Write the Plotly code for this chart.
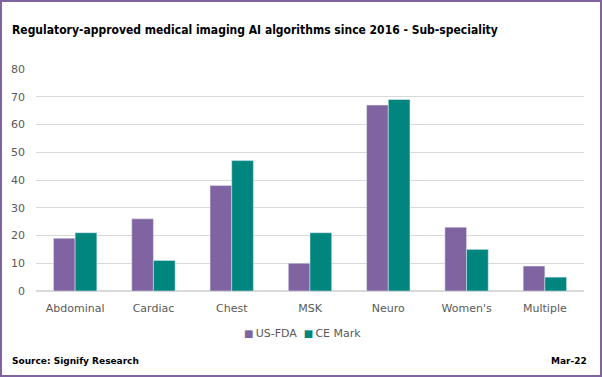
import plotly.graph_objects as go

categories = ["Abdominal", "Cardiac", "Chest", "MSK", "Neuro", "Women's", "Multiple"]
us_fda = [19, 26, 38, 10, 67, 23, 9]
ce_mark = [21, 11, 47, 21, 69, 15, 5]
y_ticks = [0, 10, 20, 30, 40, 50, 60, 70, 80]
series_names = ["US-FDA", "CE Mark"]
series_colors = ["#8064A2", "#00857F"]

W, H = 602, 377
L, R, T, B = 36, 18, 69, 86
pw, ph = W - L - R, H - T - B

def px(x):
    return (x - L) / pw

def py(y):
    return (H - B - y) / ph

fig = go.Figure()
fig.add_trace(go.Bar(x=categories, y=us_fda, name=series_names[0], marker_color=series_colors[0]))
fig.add_trace(go.Bar(x=categories, y=ce_mark, name=series_names[1], marker_color=series_colors[1]))

legend_text = (f"<span style='color:{series_colors[0]};font-size:10px'>■</span>\u2009{series_names[0]}"
               f"  <span style='color:{series_colors[1]};font-size:10px'>■</span>\u2009{series_names[1]}")

fig.update_layout(
    width=W, height=H,
    margin=dict(l=L, r=R, t=T, b=B, autoexpand=False),
    paper_bgcolor="white", plot_bgcolor="white",
    barmode="group", bargap=0.446, bargroupgap=0,
    font=dict(family="DejaVu Sans", size=11, color="#595959"),
    showlegend=False,
    xaxis=dict(showgrid=False, showline=True, linecolor="#D9D9D9", ticks="",
               ticklabelstandoff=7,
               automargin=False, tickfont=dict(size=11, color="#595959")),
    yaxis=dict(range=[0, 80], tickvals=y_ticks, showgrid=True, gridcolor="#D9D9D9",
               zeroline=True, zerolinecolor="#D9D9D9", ticks="", ticklen=0,
               ticklabelstandoff=10,
               automargin=False, tickfont=dict(size=11, color="#595959")),
    shapes=[dict(type="rect", xref="paper", yref="paper",
                 x0=px(1), x1=px(601), y0=py(376), y1=py(1),
                 line=dict(color="#8064A2", width=2), fillcolor="rgba(0,0,0,0)", layer="above")],
    annotations=[
        dict(text="<b>Regulatory-approved medical imaging AI algorithms since 2016 - Sub-speciality</b>",
             xref="paper", yref="paper", x=px(10), y=py(30), xanchor="left", yanchor="middle",
             showarrow=False, font=dict(family="DejaVu Sans Condensed", size=12, color="black")),
        dict(text=legend_text, xref="paper", yref="paper", x=px(302), y=py(333),
             xanchor="center", yanchor="middle", showarrow=False,
             font=dict(family="DejaVu Sans", size=11, color="#595959")),
        dict(text="<b>Source: Signify Research</b>", xref="paper", yref="paper",
             x=px(10), y=py(361), xanchor="left", yanchor="middle", showarrow=False,
             font=dict(family="DejaVu Sans", size=9, color="black")),
        dict(text="<b>Mar-22</b>", xref="paper", yref="paper",
             x=px(589), y=py(361), xanchor="right", yanchor="middle", showarrow=False,
             font=dict(family="DejaVu Sans", size=9, color="black")),
    ],
)

fig.write_html("out.html", config={"displayModeBar": False},
               post_script="document.body.style.margin='0';document.body.style.overflow='hidden';")
